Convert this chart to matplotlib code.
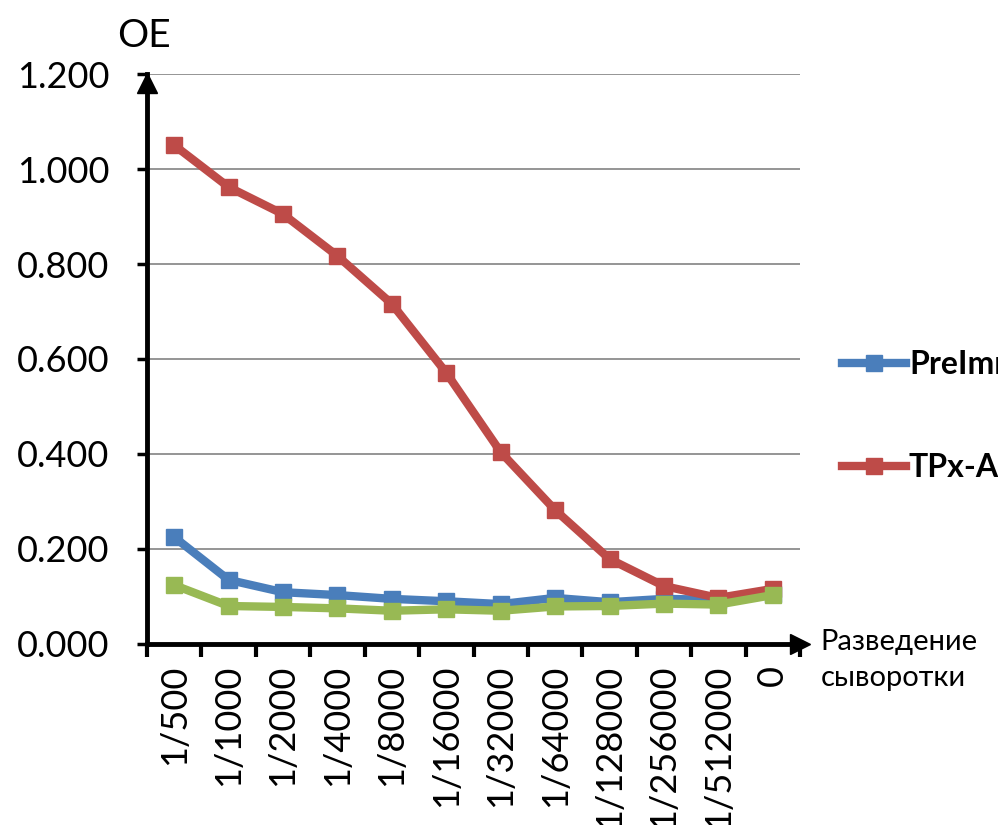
import numpy as np
import matplotlib.pyplot as plt

# serum dilutions and optical density (OE) values
dilutions = ['1/500', '1/1000', '1/2000', '1/4000', '1/8000', '1/16000',
             '1/32000', '1/64000', '1/128000', '1/256000', '1/512000', '0']
preim = [0.225, 0.135, 0.109, 0.103, 0.095, 0.090, 0.084, 0.097, 0.088, 0.095, 0.093, 0.105]
tpx_ab = [1.050, 0.962, 0.905, 0.817, 0.716, 0.571, 0.404, 0.282, 0.179, 0.122, 0.097, 0.116]
third = [0.124, 0.080, 0.078, 0.075, 0.070, 0.073, 0.070, 0.079, 0.080, 0.085, 0.083, 0.103]
yticks = [0.0, 0.2, 0.4, 0.6, 0.8, 1.0, 1.2]

plt.rcParams['font.family'] = ['Lato', 'DejaVu Sans']

fig = plt.figure(figsize=(9.98, 8.25), dpi=100)
ax = fig.add_axes([0.1473, 0.2194, 0.6543, 0.6909])

x = np.arange(len(dilutions))
ax.plot(x, preim, color='#4a7ebb', lw=6, marker='s', ms=11, label='PreImmune')
ax.plot(x, tpx_ab, color='#be4b48', lw=6, marker='s', ms=11, label='TPx-Ab')
ax.plot(x, third, color='#98b954', lw=6, marker='s', ms=11)

ax.set_xlim(-0.5, len(dilutions) - 0.5)
ax.set_ylim(0, 1.2)
ax.set_yticks(yticks)
ax.set_yticklabels(['%.3f' % v for v in yticks], fontsize=26)
ax.yaxis.grid(True, color='#8c8c8c', lw=1.3)
ax.set_axisbelow(True)

ax.set_xticks(x)
ax.set_xticklabels(dilutions, rotation=90, fontsize=26, va='top')
ax.set_xticks(np.arange(-0.5, len(dilutions)), minor=True)
ax.tick_params(axis='x', which='major', length=0, pad=15)
ax.tick_params(axis='x', which='minor', length=9, width=3, direction='out')
ax.tick_params(axis='y', length=7, width=2.5, pad=20)

for s in ['top', 'right']:
    ax.spines[s].set_visible(False)
for s in ['left', 'bottom']:
    ax.spines[s].set_linewidth(3.5)

# arrow heads on axes
ax.plot(1, 0, '>k', ms=14, transform=ax.transAxes, clip_on=False)
ax.plot(0, 0.985, '^k', ms=14, transform=ax.transAxes, clip_on=False)

fig.text(0.117, 0.943, 'OE', fontsize=28)
fig.text(0.822, 0.200, 'Разведение\nсыворотки', fontsize=21, va='center', linespacing=1.45)

leg = ax.legend(loc='center left', bbox_to_anchor=(1.02, 0.40), frameon=False,
                prop={'weight': 'bold', 'size': 23}, handlelength=2.0,
                labelspacing=2.3, handletextpad=0.1)

fig.savefig('out.png', dpi=100)
